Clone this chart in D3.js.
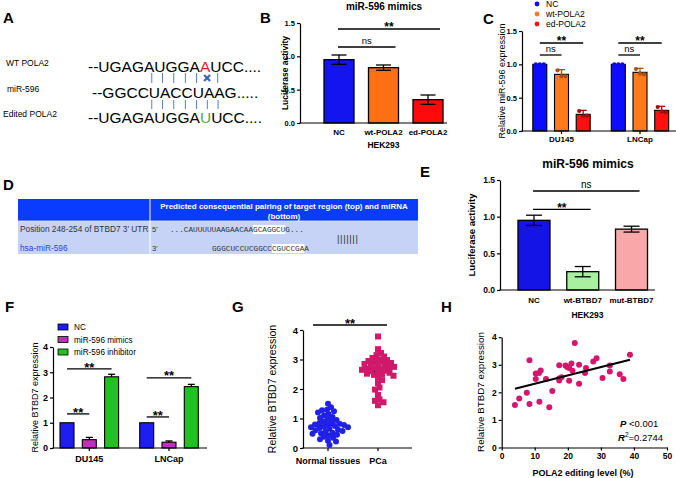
<!DOCTYPE html>
<html>
<head>
<meta charset="utf-8">
<script src="https://cdn.jsdelivr.net/npm/d3@7"></script>
<style>
  body { margin: 0; background: #fff; }
  svg { display: block; font-family: "Liberation Sans", Arial, sans-serif; }
</style>
</head>
<body>
<svg id="fig" width="676" height="478"></svg>
<script>
// ---------- data ----------
// A: sequences
const seqLabels = ["WT POLA2", "miR-596", "Edited POLA2"];
const seqRows = ["--UGAGAUGGAAUCC....", "--GGCCUACCUAAG.....", "--UGAGAUGGAUUCC...."];
const pairIdx = [6, 7, 8, 9, 10, 11, 12];
const mismatchIdx = 11;

// B: luciferase, miR-596 mimics
const bCats = ["NC", "wt-POLA2", "ed-POLA2"];
const bMean = [0.95, 0.83, 0.35];
const bErr = [0.07, 0.04, 0.07];
const bColors = ["#1414f0", "#ff7014", "#ff0a0a"];
const bSig = [{ a: 0, b: 1, v: 1.14, t: "ns" }, { a: 0, b: 2, v: 1.41, t: "**" }];

// C: relative miR-596 expression
const cGroups = ["DU145", "LNCap"];
const cSeries = ["NC", "wt-POLA2", "ed-POLA2"];
const cMean = [[1.0, 0.85, 0.25], [1.0, 0.88, 0.31]];
const cErr = [[0, 0.07, 0.06], [0, 0.06, 0.06]];
const cPoints = [
  [[1, 1, 1], [0.91, 0.82, 0.82], [0.30, 0.22, 0.23]],
  [[1, 1, 1], [0.93, 0.86, 0.85], [0.36, 0.29, 0.28]]
];
const cColors = ["#0c0cff", "#ff7a1a", "#ff1010"];
const cSig = [
  { g: 0, a: 0, b: 1, v: 1.14, t: "ns" }, { g: 0, a: 0, b: 2, v: 1.32, t: "**" },
  { g: 1, a: 0, b: 1, v: 1.14, t: "ns" }, { g: 1, a: 0, b: 2, v: 1.32, t: "**" }
];

// D: TargetScan table
const dHeader = ["Predicted consequential pairing of target region (top) and miRNA", "(bottom)"];
const dRowLabels = ["Position 248-254 of BTBD7 3' UTR", "hsa-miR-596"];
const dEnds = ["5'", "3'"];
const dSeqs = ["...CAUUUUUAAGAACAAGCAGGCUG...", "GGGCUCCUCGGCCCGUCCGAA"];
const dSeed = [[18, 25], [13, 20]];
const dPairs = "|||||||";

// E: luciferase, BTBD7
const eCats = ["NC", "wt-BTBD7", "mut-BTBD7"];
const eMean = [0.95, 0.25, 0.83];
const eErr = [0.07, 0.07, 0.04];
const eColors = ["#1414e6", "#a8f0a0", "#f8a8a8"];
const eSig = [{ a: 0, b: 2, v: 1.35, t: "ns" }, { a: 0, b: 1, v: 1.10, t: "**" }];

// F: relative BTBD7 expression
const fGroups = ["DU145", "LNCap"];
const fSeries = ["NC", "miR-596 mimics", "miR-596 inhibitor"];
const fMean = [[1.0, 0.33, 2.82], [1.0, 0.23, 2.43]];
const fErr = [[0, 0.09, 0.10], [0, 0.05, 0.09]];
const fColors = ["#1e1ef0", "#c42cc4", "#22c022"];
const fSig = [
  { g: 0, a: 0, b: 1, v: 1.35, t: "**" }, { g: 0, a: 0, b: 2, v: 3.13, t: "**" },
  { g: 1, a: 0, b: 1, v: 1.23, t: "**" }, { g: 1, a: 0, b: 2, v: 2.78, t: "**" }
];

// G: tissues
const gCats = ["Normal tissues", "PCa"];
const gNormal = [1.5, 1.38, 1.3, 1.28, 1.25, 1.2, 1.15, 1.1, 1.05, 1.02, 0.98, 0.95, 0.9, 0.88,
  0.85, 0.82, 0.8, 0.8, 0.78, 0.75, 0.72, 0.7, 0.7, 0.68, 0.65, 0.62, 0.6, 0.58, 0.55, 0.52,
  0.5, 0.48, 0.45, 0.42, 0.38, 0.35, 0.3, 0.25, 0.22, 0.1];
const gPCa = [3.78, 3.35, 3.22, 3.15, 3.1, 3.05, 3.0, 2.98, 2.95, 2.92, 2.9, 2.88, 2.85, 2.82,
  2.8, 2.78, 2.75, 2.72, 2.7, 2.7, 2.68, 2.65, 2.62, 2.6, 2.58, 2.55, 2.52, 2.5, 2.48, 2.45,
  2.4, 2.3, 2.2, 2.05, 1.98, 1.8, 1.65, 1.6, 1.55, 1.45];

// H: correlation
const hX = [4.0, 5.3, 7.6, 8.4, 8.4, 10.3, 10.3, 11.3, 11.8, 11.4, 13.4, 14.4, 15.3, 17.4, 17.4,
  17.4, 18.1, 19.3, 19.8, 20.4, 20.4, 21.1, 21.4, 22.1, 23.4, 23.4, 25.5, 25.2, 27.7, 28.7,
  30.5, 32.7, 32.7, 35.7, 36.8, 38.8];
const hY = [1.54, 1.78, 1.99, 3.16, 1.58, 2.48, 2.68, 2.70, 2.79, 1.66, 2.48, 1.46, 2.05, 2.98, 2.43,
  2.5, 2.55, 2.97, 2.92, 2.88, 2.42, 3.05, 2.78, 3.79, 3.0, 2.31, 2.88, 2.70, 3.12, 3.24,
  2.52, 2.97, 2.76, 2.66, 2.48, 3.36];
const hFit = { slope: 0.0302, intercept: 2.01 };
const hStats = { p: "<0.001", r2: "=0.2744" };

// ---------- helpers ----------
const FONT = '"Liberation Sans", Arial, sans-serif';
const svg = d3.select("#fig");

function letter(t, x, y) {
  svg.append("text").attr("x", x).attr("y", y)
    .attr("font-size", 15).attr("font-weight", "bold").text(t);
}

function yAxis(y, x, ticks, fmt, fs) {
  const ax = svg.append("g").attr("transform", `translate(${x},0)`)
    .call(d3.axisLeft(y).tickValues(ticks).tickFormat(fmt).tickSize(3).tickSizeOuter(0).tickPadding(2));
  ax.attr("font-family", FONT);
  ax.select(".domain").attr("stroke", "#000").attr("stroke-width", 1.2);
  ax.selectAll(".tick line").attr("stroke", "#000").attr("stroke-width", 1.2);
  ax.selectAll(".tick text").attr("font-size", fs).attr("font-weight", "bold").attr("fill", "#000");
}

function xLine(yy, x0, x1, ticks) {
  svg.append("line").attr("x1", x0 - 0.6).attr("x2", x1).attr("y1", yy).attr("y2", yy)
    .attr("stroke", "#000").attr("stroke-width", 1.2);
  (ticks || []).forEach(t => {
    svg.append("line").attr("x1", t).attr("x2", t).attr("y1", yy).attr("y2", yy + 3)
      .attr("stroke", "#000").attr("stroke-width", 1.2);
  });
}

function yTitle(t, cx, cy, fs, bold) {
  svg.append("text").attr("transform", `translate(${cx + fs * 0.35},${cy}) rotate(-90)`)
    .attr("text-anchor", "middle").attr("font-size", fs)
    .attr("font-weight", bold ? "bold" : "normal").text(t);
}

function ctext(t, x, y, fs, bold) {
  return svg.append("text").attr("x", x).attr("y", y).attr("text-anchor", "middle")
    .attr("font-size", fs).attr("font-weight", bold ? "bold" : "normal").text(t);
}

function sigMark(x1, x2, yy, t, starFs, nsFs) {
  svg.append("line").attr("x1", x1).attr("x2", x2).attr("y1", yy).attr("y2", yy)
    .attr("stroke", "#000").attr("stroke-width", 1.3);
  if (t === "ns") ctext(t, (x1 + x2) / 2, yy - 3, nsFs, false);
  else ctext(t, (x1 + x2) / 2, yy + starFs * 0.2, starFs, true);
}

function errBar(cx, y, m, e, half, color, both) {
  if (!e) return;
  const g = svg.append("g").attr("stroke", color).attr("stroke-width", 1.3);
  g.append("line").attr("x1", cx).attr("x2", cx).attr("y1", y(m + e)).attr("y2", both ? y(m - e) : y(m));
  g.append("line").attr("x1", cx - half).attr("x2", cx + half).attr("y1", y(m + e)).attr("y2", y(m + e));
  if (both) g.append("line").attr("x1", cx - half).attr("x2", cx + half).attr("y1", y(m - e)).attr("y2", y(m - e));
}

// simple beeswarm: each point takes the nearest free horizontal offset
function dodge(vals, y, d) {
  const placed = [];
  vals.map(v => ({ v, py: y(v) })).sort((a, b) => b.v - a.v).forEach(p => {
    let off = 0;
    for (let k = 0; k < 400; k++) {
      const o = (k % 2 ? 1 : -1) * Math.ceil(k / 2) * 0.5;
      if (placed.every(q => (q.dx - o) ** 2 + (q.py - p.py) ** 2 >= d * d)) { off = o; break; }
    }
    p.dx = off;
    placed.push(p);
  });
  return placed;
}

// ---------- A ----------
letter("A", 3, 23);
const rowX = [88, 92, 88], rowY = [72, 98, 123];
const seqEls = seqRows.map((s, r) => {
  svg.append("text").attr("x", 3 + (r === 1 ? 4 : r === 0 ? 3 : 0)).attr("y", rowY[r] - 6)
    .attr("font-size", 8.5).text(seqLabels[r]);
  const t = svg.append("text").attr("x", rowX[r]).attr("y", rowY[r]).attr("font-size", 15.5);
  const hiColor = r === 0 ? "#e41e26" : r === 2 ? "#5ea345" : null;
  if (hiColor) {
    t.append("tspan").text(s.slice(0, mismatchIdx));
    t.append("tspan").attr("fill", hiColor).text(s[mismatchIdx]);
    t.append("tspan").text(s.slice(mismatchIdx + 1));
  } else t.text(s);
  return t.node();
});
function charMid(el, i) { const b = el.getExtentOfChar(i); return b.x + b.width / 2; }
pairIdx.forEach(i => {
  const xa = (charMid(seqEls[0], i) + charMid(seqEls[1], i)) / 2;
  const xb = (charMid(seqEls[1], i) + charMid(seqEls[2], i)) / 2;
  if (i !== mismatchIdx) {
    svg.append("line").attr("x1", xa).attr("x2", xa).attr("y1", 73).attr("y2", 83)
      .attr("stroke", "#5b7cc0").attr("stroke-width", 1);
  } else {
    const g = svg.append("g").attr("stroke", "#3a66b8").attr("stroke-width", 2.2);
    g.append("line").attr("x1", xa - 3).attr("x2", xa + 3).attr("y1", 75).attr("y2", 81);
    g.append("line").attr("x1", xa + 3).attr("x2", xa - 3).attr("y1", 75).attr("y2", 81);
  }
  svg.append("line").attr("x1", xb).attr("x2", xb).attr("y1", 100).attr("y2", 109)
    .attr("stroke", "#5b7cc0").attr("stroke-width", 1);
});

// ---------- bar panels (B, E) ----------
function barPanel(o) {
  const { y, x } = o;
  const bw = o.barW;
  yAxis(y, o.axisX, [0, 0.5, 1.0, 1.5], d3.format(".1f"), o.tickFs);
  svg.append("g").selectAll("rect").data(o.cats).join("rect")
    .attr("x", d => x(d) - bw / 2).attr("width", bw)
    .attr("y", (d, i) => y(o.mean[i])).attr("height", (d, i) => y(0) - y(o.mean[i]))
    .attr("fill", (d, i) => o.colors[i]).attr("stroke", "#000").attr("stroke-width", 1.3);
  o.cats.forEach((c, i) => errBar(x(c), y, o.mean[i], o.err[i], bw / 4, "#000", true));
  xLine(y(0), o.axisX, o.axisEnd);
  o.cats.forEach(c => ctext(c, x(c), o.labelY, o.labelFs, true));
  ctext(o.xtitle, (o.axisX + o.axisEnd) / 2 + 10, o.xtitleY, o.labelFs + 0.5, true);
  ctext(o.title, o.titleX, o.titleY, o.titleFs, true);
  yTitle(o.ytitle, o.ytitleX, (y(0) + y(1.5)) / 2, o.ytitleFs, true);
  o.sig.forEach(s => sigMark(x(o.cats[s.a]) - 1, x(o.cats[s.b]) + o.sigExt, y(s.v), s.t, o.starFs, o.nsFs));
}

letter("B", 260, 23);
barPanel({
  cats: bCats, mean: bMean, err: bErr, colors: bColors, sig: bSig,
  y: d3.scaleLinear().domain([0, 1.5]).range([123, 23]),
  x: d3.scalePoint().domain(bCats).range([316.75, 450.25]).padding(0.5),
  axisX: 300, axisEnd: 447, barW: 30, tickFs: 7.5, labelFs: 8, labelY: 135,
  xtitle: "HEK293", xtitleY: 148, title: "miR-596 mimics", titleX: 384, titleY: 10, titleFs: 10,
  ytitle: "Luciferase activity", ytitleX: 285, ytitleFs: 8.5, sigExt: 12, starFs: 12, nsFs: 9.5
});

letter("E", 420, 177);
barPanel({
  cats: eCats, mean: eMean, err: eErr, colors: eColors, sig: eSig,
  y: d3.scaleLinear().domain([0, 1.5]).range([290, 180]),
  x: d3.scalePoint().domain(eCats).range([509.6, 655.9]).padding(0.5),
  axisX: 500, axisEnd: 655, barW: 32, tickFs: 8.5, labelFs: 8, labelY: 303,
  xtitle: "HEK293", xtitleY: 318, title: "miR-596 mimics", titleX: 588, titleY: 168, titleFs: 12,
  ytitle: "Luciferase activity", ytitleX: 472, ytitleFs: 9.5, sigExt: 8, starFs: 12, nsFs: 10
});

// ---------- grouped bar panels (C, F) ----------
function groupPanel(o) {
  const { y } = o;
  const gx = d3.scaleBand().domain(o.groups).range(o.groupRange);
  const sx = d3.scalePoint().domain(o.series).range([-o.inner, o.inner]);
  const cx = (g, s) => gx(o.groups[g]) + gx.bandwidth() / 2 + sx(o.series[s]);
  yAxis(y, o.axisX, o.ticks, o.fmt, o.tickFs);
  o.groups.forEach((gName, g) => {
    o.series.forEach((sName, s) => {
      const m = o.mean[g][s];
      svg.append("rect").attr("x", cx(g, s) - o.barW / 2).attr("width", o.barW)
        .attr("y", y(m)).attr("height", y(0) - y(m))
        .attr("fill", o.colors[s]).attr("stroke", "#000").attr("stroke-width", 1.1);
      const ec = o.darkErr ? d3.color(o.colors[s]).darker(1.2).formatHex() : "#000";
      errBar(cx(g, s), y, m, o.err[g][s], o.barW / 4, ec, false);
      if (o.points) {
        const off = d3.scalePoint().domain([0, 1, 2]).range([-4, 4]);
        svg.append("g").selectAll("circle").data(o.points[g][s]).join("circle")
          .attr("cx", (d, k) => cx(g, s) + off(k)).attr("cy", d => y(d)).attr("r", 2.1)
          .attr("fill", d3.color(o.colors[s]).darker(s === 0 ? 0.3 : 1.2).formatHex());
      }
    });
  });
  xLine(y(0), o.axisX, o.axisEnd, o.groups.map((d, g) => cx(g, 1)));
  o.groups.forEach((gName, g) => ctext(gName, cx(g, 1), o.labelY, o.labelFs, true));
  yTitle(o.ytitle, o.ytitleX, (y(0) + y(o.ticks[o.ticks.length - 1])) / 2, o.ytitleFs, false);
  o.sig.forEach(s => sigMark(cx(s.g, s.a), cx(s.g, s.b), y(s.v), s.t, o.starFs, o.nsFs));
}

letter("C", 483, 24);
groupPanel({
  groups: cGroups, series: cSeries, mean: cMean, err: cErr, points: cPoints, colors: cColors, sig: cSig,
  y: d3.scaleLinear().domain([0, 1.5]).range([131, 31]),
  groupRange: [522.25, 679.25], inner: 21.7, barW: 14, axisX: 522, axisEnd: 676,
  ticks: [0, 0.5, 1.0, 1.5], fmt: d3.format(".1f"), tickFs: 7.5, labelFs: 8, labelY: 142,
  ytitle: "Relative miR-596 expression", ytitleX: 502, ytitleFs: 9, darkErr: true, starFs: 12, nsFs: 9.5
});
// C legend
cSeries.forEach((s, i) => {
  svg.append("circle").attr("cx", 537).attr("cy", 4 + i * 10).attr("r", 2.4).attr("fill", cColors[i]);
  svg.append("text").attr("x", 546).attr("y", 7 + i * 10).attr("font-size", 8.5).text(s);
});

letter("F", 5, 312);
groupPanel({
  groups: fGroups, series: fSeries, mean: fMean, err: fErr, colors: fColors, sig: fSig,
  y: d3.scaleLinear().domain([0, 4]).range([448, 347]),
  groupRange: [49.45, 208.85], inner: 22.3, barW: 14, axisX: 53, axisEnd: 207,
  ticks: [0, 1, 2, 3, 4], fmt: d3.format("d"), tickFs: 9, labelFs: 9, labelY: 462,
  ytitle: "Relative BTBD7 expression", ytitleX: 35, ytitleFs: 9, darkErr: false, starFs: 13, nsFs: 10
});
// F legend
fSeries.forEach((s, i) => {
  svg.append("rect").attr("x", 58).attr("y", 324 + i * 12.5).attr("width", 10).attr("height", 6)
    .attr("fill", fColors[i]).attr("stroke", "#000").attr("stroke-width", 0.8);
  svg.append("text").attr("x", 74).attr("y", 330 + i * 12.5).attr("font-size", 8.2).text(s);
});

// ---------- D ----------
letter("D", 3, 190);
const tbl = svg.append("g");
tbl.append("rect").attr("x", 18).attr("y", 199).attr("width", 400).attr("height", 22).attr("fill", "#0a3cff");
tbl.append("rect").attr("x", 18).attr("y", 221).attr("width", 400).attr("height", 33).attr("fill", "#c6d3f6");
tbl.append("line").attr("x1", 150).attr("x2", 150).attr("y1", 199).attr("y2", 254)
  .attr("stroke", "#fff").attr("stroke-width", 1);
tbl.append("line").attr("x1", 18).attr("x2", 418).attr("y1", 221).attr("y2", 221)
  .attr("stroke", "#e8eeff").attr("stroke-width", 0.8);
dHeader.forEach((h, i) => {
  tbl.append("text").attr("x", 284).attr("y", 209 + i * 10).attr("text-anchor", "middle")
    .attr("font-size", 8).attr("font-weight", "bold").attr("fill", "#fff").text(h);
});
const rowBase = [232, 251], seqStart = [170, 212];
dRowLabels.forEach((l, i) => {
  tbl.append("text").attr("x", 20).attr("y", rowBase[i]).attr("font-size", 8.3)
    .attr("fill", i === 0 ? "#333" : "#2743d8").text(l);
  tbl.append("text").attr("x", 152).attr("y", rowBase[i]).attr("font-size", 7.5).attr("fill", "#333").text(dEnds[i]);
  const hl = tbl.append("rect").attr("fill", "#fff");
  const st = tbl.append("text").attr("x", seqStart[i]).attr("y", rowBase[i])
    .attr("font-family", '"Liberation Mono", "DejaVu Sans Mono", monospace')
    .attr("font-size", 7.7).attr("fill", "#333").text(dSeqs[i]);
  const a = st.node().getExtentOfChar(dSeed[i][0]);
  const b = st.node().getExtentOfChar(dSeed[i][1] - 1);
  hl.attr("x", a.x).attr("y", rowBase[i] - 7).attr("width", b.x + b.width - a.x).attr("height", 9);
});
tbl.append("text").attr("x", 337).attr("y", 242).attr("font-size", 9.5).attr("letter-spacing", 0.6)
  .attr("fill", "#333").text(dPairs);

// ---------- G ----------
letter("G", 232, 312);
{
  const y = d3.scaleLinear().domain([0, 4]).range([448, 330]);
  const x = d3.scalePoint().domain(gCats).range([303, 403]).padding(0.5);
  yAxis(y, 303, [0, 1, 2, 3, 4], d3.format("d"), 9.5);
  xLine(y(0), 303, 412, gCats.map(c => x(c)));
  gCats.forEach(c => ctext(c, x(c), 464, 9, true));
  yTitle("Relative BTBD7 expression", 272, 389, 10.5, false);
  [gNormal, gPCa].forEach((vals, k) => {
    const cxv = x(gCats[k]);
    svg.append("line").attr("x1", cxv - 12).attr("x2", cxv + 12).attr("y1", y(d3.mean(vals))).attr("y2", y(d3.mean(vals)))
      .attr("stroke", "#000").attr("stroke-width", 1.5);
  });
  const sw1 = dodge(gNormal, y, 4.6);
  svg.append("g").selectAll("circle").data(sw1).join("circle")
    .attr("cx", d => x(gCats[0]) + d.dx).attr("cy", d => d.py).attr("r", 3).attr("fill", "#2020e6");
  const sw2 = dodge(gPCa, y, 4.6);
  svg.append("g").selectAll("rect").data(sw2).join("rect")
    .attr("x", d => x(gCats[1]) + d.dx - 3).attr("y", d => d.py - 3).attr("width", 6).attr("height", 6)
    .attr("fill", "#d0196b");
  sigMark(313, 387, y(4.17), "**", 13, 10);
}

// ---------- H ----------
letter("H", 441, 312);
{
  const x = d3.scaleLinear().domain([0, 50]).range([501.7, 667]);
  const y = d3.scaleLinear().domain([0, 4]).range([447.5, 337.2]);
  yAxis(y, x(0), [0, 1, 2, 3, 4], d3.format("d"), 8.5);
  const ax = svg.append("g").attr("transform", `translate(0,${y(0)})`)
    .call(d3.axisBottom(x).tickValues([0, 10, 20, 30, 40, 50]).tickSize(3).tickSizeOuter(0).tickPadding(2));
  ax.attr("font-family", FONT);
  ax.select(".domain").attr("stroke", "#000").attr("stroke-width", 1.2);
  ax.selectAll(".tick line").attr("stroke", "#000").attr("stroke-width", 1.2);
  ax.selectAll(".tick text").attr("font-size", 8.5).attr("font-weight", "bold").attr("fill", "#000");
  ctext("POLA2 editing level (%)", 583, 476, 9, true);
  yTitle("Relative BTBD7 expression", 481, 392, 9.8, false);
  svg.append("g").selectAll("circle").data(hX).join("circle")
    .attr("cx", d => x(d)).attr("cy", (d, i) => y(hY[i])).attr("r", 3).attr("fill", "#d4176c");
  const [x0, x1] = d3.extent(hX);
  svg.append("line").attr("x1", x(x0)).attr("x2", x(x1))
    .attr("y1", y(hFit.intercept + hFit.slope * x0)).attr("y2", y(hFit.intercept + hFit.slope * x1))
    .attr("stroke", "#000").attr("stroke-width", 2);
  const p = svg.append("text").attr("x", 620).attr("y", 427).attr("font-size", 9.5);
  p.append("tspan").attr("font-weight", "bold").attr("font-style", "italic").text("P");
  p.append("tspan").text(" " + hStats.p);
  const r = svg.append("text").attr("x", 618).attr("y", 441).attr("font-size", 9.5);
  r.append("tspan").attr("font-weight", "bold").attr("font-style", "italic").text("R");
  r.append("tspan").attr("font-size", 6.5).attr("dy", -4).text("2");
  r.append("tspan").attr("dy", 4).text(hStats.r2);
}
</script>
</body>
</html>
